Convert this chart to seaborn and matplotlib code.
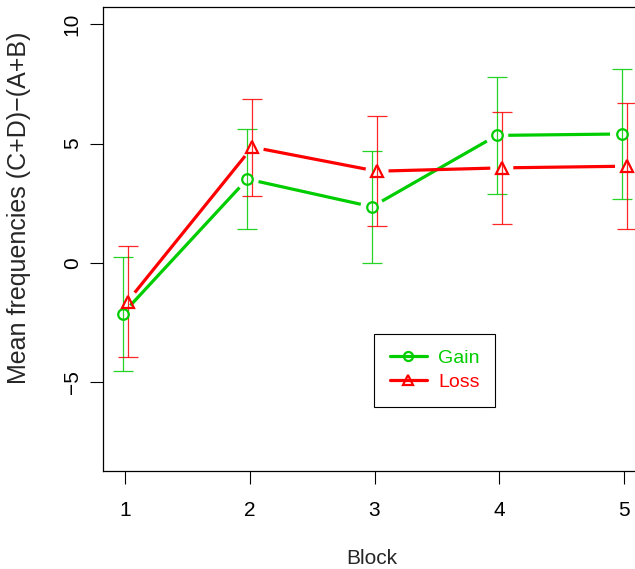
import numpy as np
import pandas as pd
import matplotlib
matplotlib.use("Agg")
import matplotlib.pyplot as plt
import seaborn as sns
from matplotlib.lines import Line2D

# ---- data ----
blocks = [1, 2, 3, 4, 5]
series = ["Gain", "Loss"]
gain_mean = [-2.14, 3.51, 2.35, 5.34, 5.40]
gain_err = [2.40, 2.08, 2.35, 2.45, 2.73]
loss_mean = [-1.62, 4.85, 3.84, 3.98, 4.05]
loss_err = [2.33, 2.03, 2.30, 2.35, 2.65]
y_ticks = [-5, 0, 5, 10]
x_label = "Block"
y_label = "Mean frequencies (C+D)\u2212(A+B)"

# ---- style ----
sns.set_style("white")
plt.rcParams["font.family"] = ["Liberation Sans", "DejaVu Sans"]
colors = {"Gain": "#00CD00", "Loss": "#FF0000"}
markers = {"Gain": "o", "Loss": "^"}
dodge = {"Gain": -0.02, "Loss": 0.02}

W, H = 635, 569
fig = plt.figure(figsize=(W / 100, H / 100), dpi=100)
px_per_x = 124.75
xlim = (0.825, 5.175)
ylim = (-8.72, 10.72)
ax_left, ax_right = 103.2, 103.2 + (xlim[1] - xlim[0]) * px_per_x
ax_top, ax_bot = 7, 471
ax = fig.add_axes([ax_left / W, 1 - ax_bot / H, (ax_right - ax_left) / W, (ax_bot - ax_top) / H])
ax.set_xlim(*xlim)
ax.set_ylim(*ylim)

df = pd.concat([
    pd.DataFrame({"Block": blocks, "mean": gain_mean, "err": gain_err, "group": "Gain"}),
    pd.DataFrame({"Block": blocks, "mean": loss_mean, "err": loss_err, "group": "Loss"}),
], ignore_index=True)
df["xpos"] = df["Block"] + df["group"].map(dodge)


def gapped_line(ax, xs, ys, gap_px, **kw):
    pts = ax.transData.transform(np.column_stack([xs, ys]))
    inv = ax.transData.inverted()
    for p0, p1 in zip(pts[:-1], pts[1:]):
        d = p1 - p0
        L = np.hypot(*d)
        if L <= 2 * gap_px:
            continue
        u = d / L
        a, b = inv.transform(np.array([p0 + u * gap_px, p1 - u * gap_px]))
        ax.plot([a[0], b[0]], [a[1], b[1]], **kw)


for g in series:
    sub = df[df["group"] == g]
    c = colors[g]
    gapped_line(ax, sub["xpos"].values, sub["mean"].values, 11.5,
                color=c, lw=2.3, solid_capstyle="butt", zorder=2)
    ax.errorbar(sub["xpos"], sub["mean"], yerr=sub["err"], fmt="none",
                ecolor=c, elinewidth=0.9, capsize=7.2, capthick=0.9, alpha=0.85, zorder=3)
    sns.lineplot(data=sub, x="xpos", y="mean", ax=ax, color=c, linestyle="",
                 marker=markers[g], markersize=7.6 if g == "Gain" else 8.6,
                 markerfacecolor="none", markeredgecolor=c, markeredgewidth=1.6,
                 errorbar=None, zorder=4, legend=False)

ax.set_xlim(*xlim)
ax.set_ylim(*ylim)
ax.set_xticks(blocks)
ax.set_xticklabels([str(b) for b in blocks])
ax.set_yticks(y_ticks)
ax.set_yticklabels([str(t).replace("-", "\u2212") for t in y_ticks])

for s in ["left", "top", "bottom"]:
    ax.spines[s].set_visible(True)
    ax.spines[s].set_color("black")
    ax.spines[s].set_linewidth(0.9)
ax.spines["right"].set_visible(False)

ax.tick_params(axis="both", direction="out", length=9.4, width=0.8, color="black",
               labelsize=15, labelcolor="black")
ax.tick_params(axis="x", pad=12, bottom=True)
ax.tick_params(axis="y", pad=6, left=True, labelrotation=90)
for lab in ax.get_yticklabels():
    lab.set_va("center")

ax.set_xlabel(x_label, fontsize=15)
ax.set_ylabel(y_label, fontsize=18)
ax.xaxis.set_label_coords((372 - ax_left) / (ax_right - ax_left), (ax_bot - 558) / (ax_bot - ax_top))
ax.xaxis.label.set_va("center")
ax.yaxis.set_label_coords((19 - ax_left) / (ax_right - ax_left), (ax_bot - 208) / (ax_bot - ax_top))
ax.yaxis.label.set_va("center")

handles = [Line2D([0], [0], color=colors[g], lw=2.3, marker=markers[g],
                  markersize=6.5 if g == "Gain" else 7.5, markerfacecolor="none",
                  markeredgecolor=colors[g], markeredgewidth=1.6) for g in series]
leg = ax.legend(handles, series, loc="upper left",
                bbox_to_anchor=((374 - ax_left) / (ax_right - ax_left), (ax_bot - 334) / (ax_bot - ax_top)),
                borderaxespad=0, fontsize=14, frameon=True, fancybox=False,
                edgecolor="black", framealpha=1, borderpad=0.8, labelspacing=0.32,
                handlelength=1.9, handletextpad=0.6)
leg.get_frame().set_linewidth(0.8)
for t, g in zip(leg.get_texts(), series):
    t.set_color(colors[g])

fig.savefig("out.png", dpi=100)
